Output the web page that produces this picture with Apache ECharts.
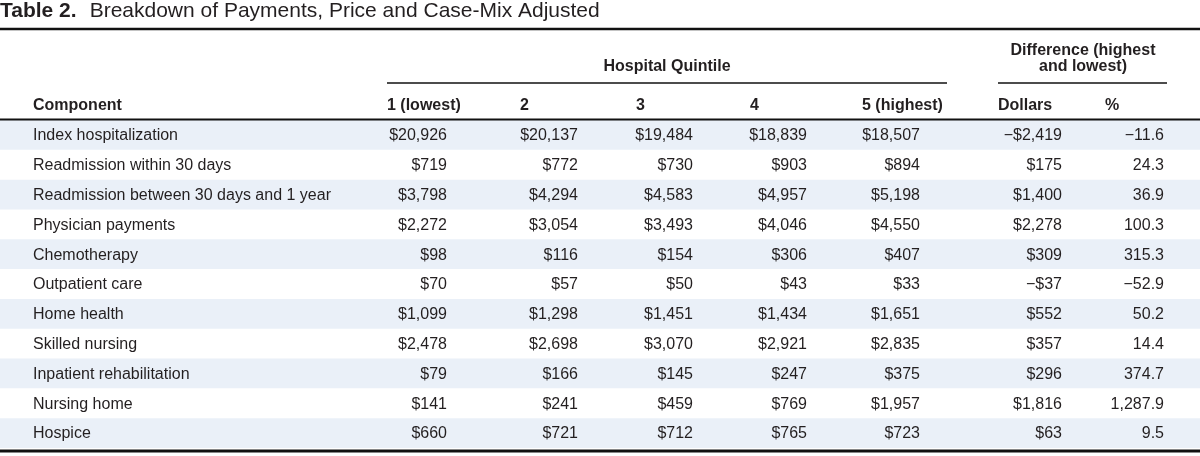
<!DOCTYPE html>
<html>
<head>
<meta charset="utf-8">
<script src="https://cdn.jsdelivr.net/npm/echarts@6/dist/echarts.min.js"></script>
<style>
html,body{margin:0;padding:0;background:#fff;}
#chart{width:1200px;height:456px;}
</style>
</head>
<body>
<div id="chart"></div>
<script>
// ---------- data ----------
const tableLabel = 'Table 2.';
const tableTitle = 'Breakdown of Payments, Price and Case-Mix Adjusted';
const groupQuintile = 'Hospital Quintile';
const groupDifference = ['Difference (highest', 'and lowest)'];
const columnHeaders = ['Component', '1 (lowest)', '2', '3', '4', '5 (highest)', 'Dollars', '%'];
const components = [
  'Index hospitalization',
  'Readmission within 30 days',
  'Readmission between 30 days and 1 year',
  'Physician payments',
  'Chemotherapy',
  'Outpatient care',
  'Home health',
  'Skilled nursing',
  'Inpatient rehabilitation',
  'Nursing home',
  'Hospice'
];
const quintile1 = [20926, 719, 3798, 2272, 98, 70, 1099, 2478, 79, 141, 660];
const quintile2 = [20137, 772, 4294, 3054, 116, 57, 1298, 2698, 166, 241, 721];
const quintile3 = [19484, 730, 4583, 3493, 154, 50, 1451, 3070, 145, 459, 712];
const quintile4 = [18839, 903, 4957, 4046, 306, 43, 1434, 2921, 247, 769, 765];
const quintile5 = [18507, 894, 5198, 4550, 407, 33, 1651, 2835, 375, 1957, 723];
const diffDollars = [-2419, 175, 1400, 2278, 309, -37, 552, 357, 296, 1816, 63];
const diffPercent = [-11.6, 24.3, 36.9, 100.3, 315.3, -52.9, 50.2, 14.4, 374.7, 1287.9, 9.5];

// ---------- layout (pixels on a 0..1200 value axis) ----------
const componentLeft = 33;
const headerLeft = [33, 387, 520, 636, 750, 862, 998, 1105];
const valueRight = [447, 578, 693, 807, 920, 1062, 1164];
const FONT = '"Liberation Sans", Arial, Helvetica, sans-serif';
const TEXT = '#231f20';
const STRIPE = '#eaf0f8';
const TEXT_DY = 1;

const MINUS = '\u2212';
function fmtDollar(v) {
  const s = '$' + Math.abs(v).toLocaleString('en-US');
  return v < 0 ? MINUS + s : s;
}
function fmtPct(v) {
  const s = Math.abs(v).toLocaleString('en-US', {minimumFractionDigits: 1, maximumFractionDigits: 1});
  return v < 0 ? MINUS + s : s;
}
const valueColumns = [quintile1, quintile2, quintile3, quintile4, quintile5, diffDollars];

const chart = echarts.init(document.getElementById('chart'), null, {renderer: 'canvas'});

const headerY = 106;
const graphics = [
  {
    type: 'text', x: 0, y: 11,
    style: {
      text: '{b|' + tableLabel + '}{n|' + tableTitle + '}',
      rich: {
        b: {fontFamily: FONT, fontSize: 21, fontWeight: 'bold', fill: TEXT, padding: [0, 13, 0, 0]},
        n: {fontFamily: FONT, fontSize: 21, fill: TEXT}
      },
      verticalAlign: 'middle'
    }
  },
  {type: 'line', shape: {x1: 0, y1: 29, x2: 1200, y2: 29}, style: {stroke: '#111', lineWidth: 2.5}},
  {type: 'text', x: 667, y: 67, style: {text: groupQuintile, fontFamily: FONT, fontSize: 16, fontWeight: 'bold', fill: TEXT, align: 'center', verticalAlign: 'middle'}},
  {type: 'line', shape: {x1: 387, y1: 83, x2: 947, y2: 83}, style: {stroke: '#111', lineWidth: 1.5}},
  {type: 'text', x: 1083, y: 51, style: {text: groupDifference[0], fontFamily: FONT, fontSize: 16, fontWeight: 'bold', fill: TEXT, align: 'center', verticalAlign: 'middle'}},
  {type: 'text', x: 1083, y: 67, style: {text: groupDifference[1], fontFamily: FONT, fontSize: 16, fontWeight: 'bold', fill: TEXT, align: 'center', verticalAlign: 'middle'}},
  {type: 'line', shape: {x1: 998, y1: 83, x2: 1167, y2: 83}, style: {stroke: '#111', lineWidth: 1.5}},
  {type: 'line', shape: {x1: 0, y1: 119.5, x2: 1200, y2: 119.5}, style: {stroke: '#111', lineWidth: 1.8}, z: 100},
  {type: 'line', shape: {x1: 0, y1: 451, x2: 1200, y2: 451}, style: {stroke: '#111', lineWidth: 3}, z: 100}
];
columnHeaders.forEach(function (h, i) {
  graphics.push({type: 'text', x: headerLeft[i], y: headerY,
    style: {text: h, fontFamily: FONT, fontSize: 16, fontWeight: 'bold', fill: TEXT, align: 'left', verticalAlign: 'middle'}});
});

const rowData = components.map(function (c, i) { return [0, i]; });

const option = {
  backgroundColor: '#ffffff',
  animation: false,
  grid: {left: 0, right: 0, top: 120, bottom: 8},
  xAxis: {type: 'value', min: 0, max: 1200, show: false},
  yAxis: {type: 'category', data: components, inverse: true, show: false},
  graphic: graphics,
  series: [
    {
      type: 'custom',
      name: 'stripes',
      data: rowData,
      encode: {x: 0, y: 1},
      silent: true,
      z: 1,
      renderItem: function (params, api) {
        const idx = api.value(1);
        if (idx % 2 !== 0) return null;
        const p0 = api.coord([0, idx]);
        const p1 = api.coord([1200, idx]);
        const h = api.size([0, 1])[1];
        return {type: 'rect', shape: {x: p0[0], y: p0[1] - h / 2, width: p1[0] - p0[0], height: h}, style: {fill: STRIPE}};
      }
    },
    {
      type: 'custom',
      name: 'cells',
      data: rowData,
      encode: {x: 0, y: 1},
      silent: true,
      z: 2,
      renderItem: function (params, api) {
        const idx = api.value(1);
        const children = [];
        const pc = api.coord([componentLeft, idx]);
        children.push({type: 'text', x: pc[0], y: pc[1] + TEXT_DY,
          style: {text: components[idx], fontFamily: FONT, fontSize: 16, fill: TEXT, align: 'left', verticalAlign: 'middle'}});
        valueColumns.forEach(function (col, c) {
          const p = api.coord([valueRight[c], idx]);
          children.push({type: 'text', x: p[0], y: p[1] + TEXT_DY,
            style: {text: fmtDollar(col[idx]), fontFamily: FONT, fontSize: 16, fill: TEXT, align: 'right', verticalAlign: 'middle'}});
        });
        const pp = api.coord([valueRight[6], idx]);
        children.push({type: 'text', x: pp[0], y: pp[1] + TEXT_DY,
          style: {text: fmtPct(diffPercent[idx]), fontFamily: FONT, fontSize: 16, fill: TEXT, align: 'right', verticalAlign: 'middle'}});
        return {type: 'group', children: children};
      }
    }
  ]
};
chart.setOption(option);
</script>
</body>
</html>
